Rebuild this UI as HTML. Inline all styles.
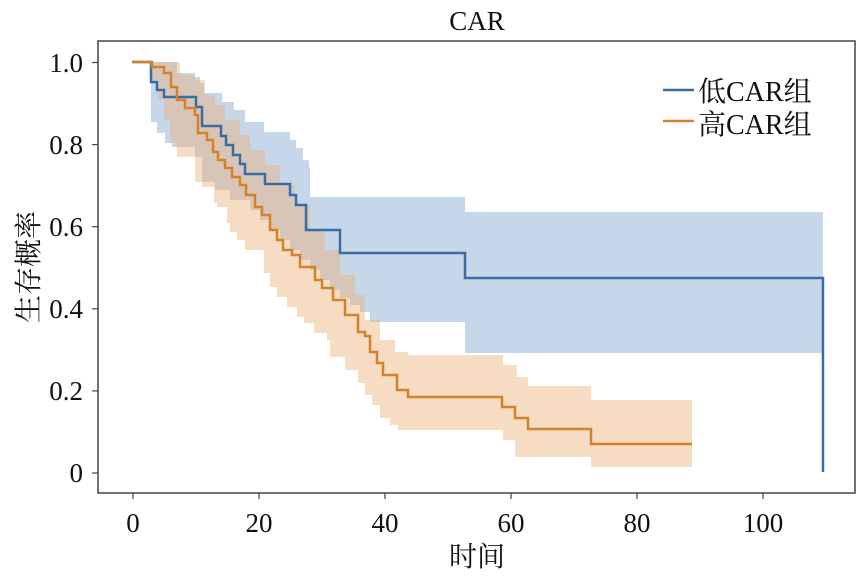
<!DOCTYPE html>
<html><head><meta charset="utf-8"><style>
body{margin:0;background:#fff;}
svg text{font-family:"Liberation Serif","Noto Serif CJK SC",serif;fill:#111;}
</style></head><body>
<svg width="867" height="579" viewBox="0 0 867 579" xmlns="http://www.w3.org/2000/svg">
<rect width="867" height="579" fill="#fff"/>
<path d="M151,62 H177 V73 H195 V77 H200 V83 H204 V93 H222 V102 H234 V110 H245 V122 H264 V132 H290 V140 H296 V148 H303 V160 H309 V167 H310 V197 H465 V212 H823 V353 H465 V322 H370 V312 H360 V305 H350 V298 H340 V290 H330 V280 H320 V270 H310 V260 H300 V250 H290 V240 H280 V230 H270 V220 H260 V210 H250 V200 H230 V190 H215 V182 H202 V157 H195 V147 H172 V143 H165 V133 H157 V122 H151 Z" fill="#8fb0d6" fill-opacity="0.5"/>
<path d="M152,62 H180 V75 H195 V80 H205 V95 H215 V105 H225 V120 H240 V135 H250 V150 H265 V165 H280 V185 H295 V205 H310 V230 H325 V250 H340 V275 H355 V295 H365 V320 H380 V340 H395 V352 H408 V355 H503 V365 H517 V377 H528 V386 H591 V400 H692 V467 H591 V457 H515 V440 H503 V430 H398 V425 H390 V418 H380 V405 H372 V395 H365 V383 H358 V370 H345 V357 H330 V340 H327 V333 H314 V323 H304 V317 H297 V307 H287 V297 H277 V287 H270 V273 H264 V250 H245 V240 H237 V232 H230 V223 H227 V207 H217 V203 H214 V187 H202 V182 H195 V157 H177 V143 H170 V120 H164 V100 H158 V80 H152 Z" fill="#eab27a" fill-opacity="0.45"/>
<path d="M132,62 H151 V82 H157 V90 H164 V97 H196 V107 H202 V126 H221 V136 H226 V145 H233 V155 H240 V164 H245 V174 H265 V184 H290 V195 H296 V205 H306 V230 H340 V253 H465 V278 H823 V472" fill="none" stroke="#3b6ba3" stroke-width="2.5"/>
<path d="M132,62 H152 V67 H164 V73 H171 V87 H177 V100 H185 V108 H195 V115 H198 V133 H207 V140 H213 V152 H218 V160 H225 V168 H232 V177 H240 V185 H246 V195 H255 V207 H262 V215 H270 V230 H277 V240 H283 V250 H292 V255 H300 V267 H315 V280 H322 V288 H333 V300 H345 V315 H358 V332 H365 V336 H370 V352 H377 V363 H383 V375 H397 V390 H408 V397 H502 V407 H515 V418 H528 V429 H591 V444 H692" fill="none" stroke="#d4822a" stroke-width="2.5"/>
<rect x="98" y="41" width="757" height="452" fill="none" stroke="#444" stroke-width="1.5"/>
<g stroke="#444" stroke-width="1.2">
<line x1="133" y1="493" x2="133" y2="499"/><line x1="259" y1="493" x2="259" y2="499"/><line x1="385" y1="493" x2="385" y2="499"/><line x1="511" y1="493" x2="511" y2="499"/><line x1="637" y1="493" x2="637" y2="499"/><line x1="763" y1="493" x2="763" y2="499"/>
<line x1="92" y1="62.5" x2="98" y2="62.5"/><line x1="92" y1="144.6" x2="98" y2="144.6"/><line x1="92" y1="226.7" x2="98" y2="226.7"/><line x1="92" y1="308.8" x2="98" y2="308.8"/><line x1="92" y1="390.9" x2="98" y2="390.9"/><line x1="92" y1="473" x2="98" y2="473"/>
</g>
<g font-size="27" text-anchor="middle">
<text x="133" y="532">0</text><text x="259" y="532">20</text><text x="385" y="532">40</text><text x="511" y="532">60</text><text x="637" y="532">80</text><text x="763" y="532">100</text>
</g>
<g font-size="27" text-anchor="end">
<text x="83" y="72">1.0</text><text x="83" y="154">0.8</text><text x="83" y="236">0.6</text><text x="83" y="318">0.4</text><text x="83" y="400">0.2</text><text x="83" y="482">0</text>
</g>
<text x="477" y="30" font-size="27" text-anchor="middle">CAR</text>
<text x="477" y="566" font-size="28" text-anchor="middle">时间</text>
<text transform="translate(38,267) rotate(-90)" font-size="28" text-anchor="middle">生存概率</text>
<line x1="663" y1="90" x2="694" y2="90" stroke="#3b6ba3" stroke-width="2.5"/>
<line x1="663" y1="121" x2="694" y2="121" stroke="#d4822a" stroke-width="2.5"/>
<text x="698" y="101" font-size="28">低CAR组</text>
<text x="698" y="134" font-size="28">高CAR组</text>
</svg>
</body></html>
